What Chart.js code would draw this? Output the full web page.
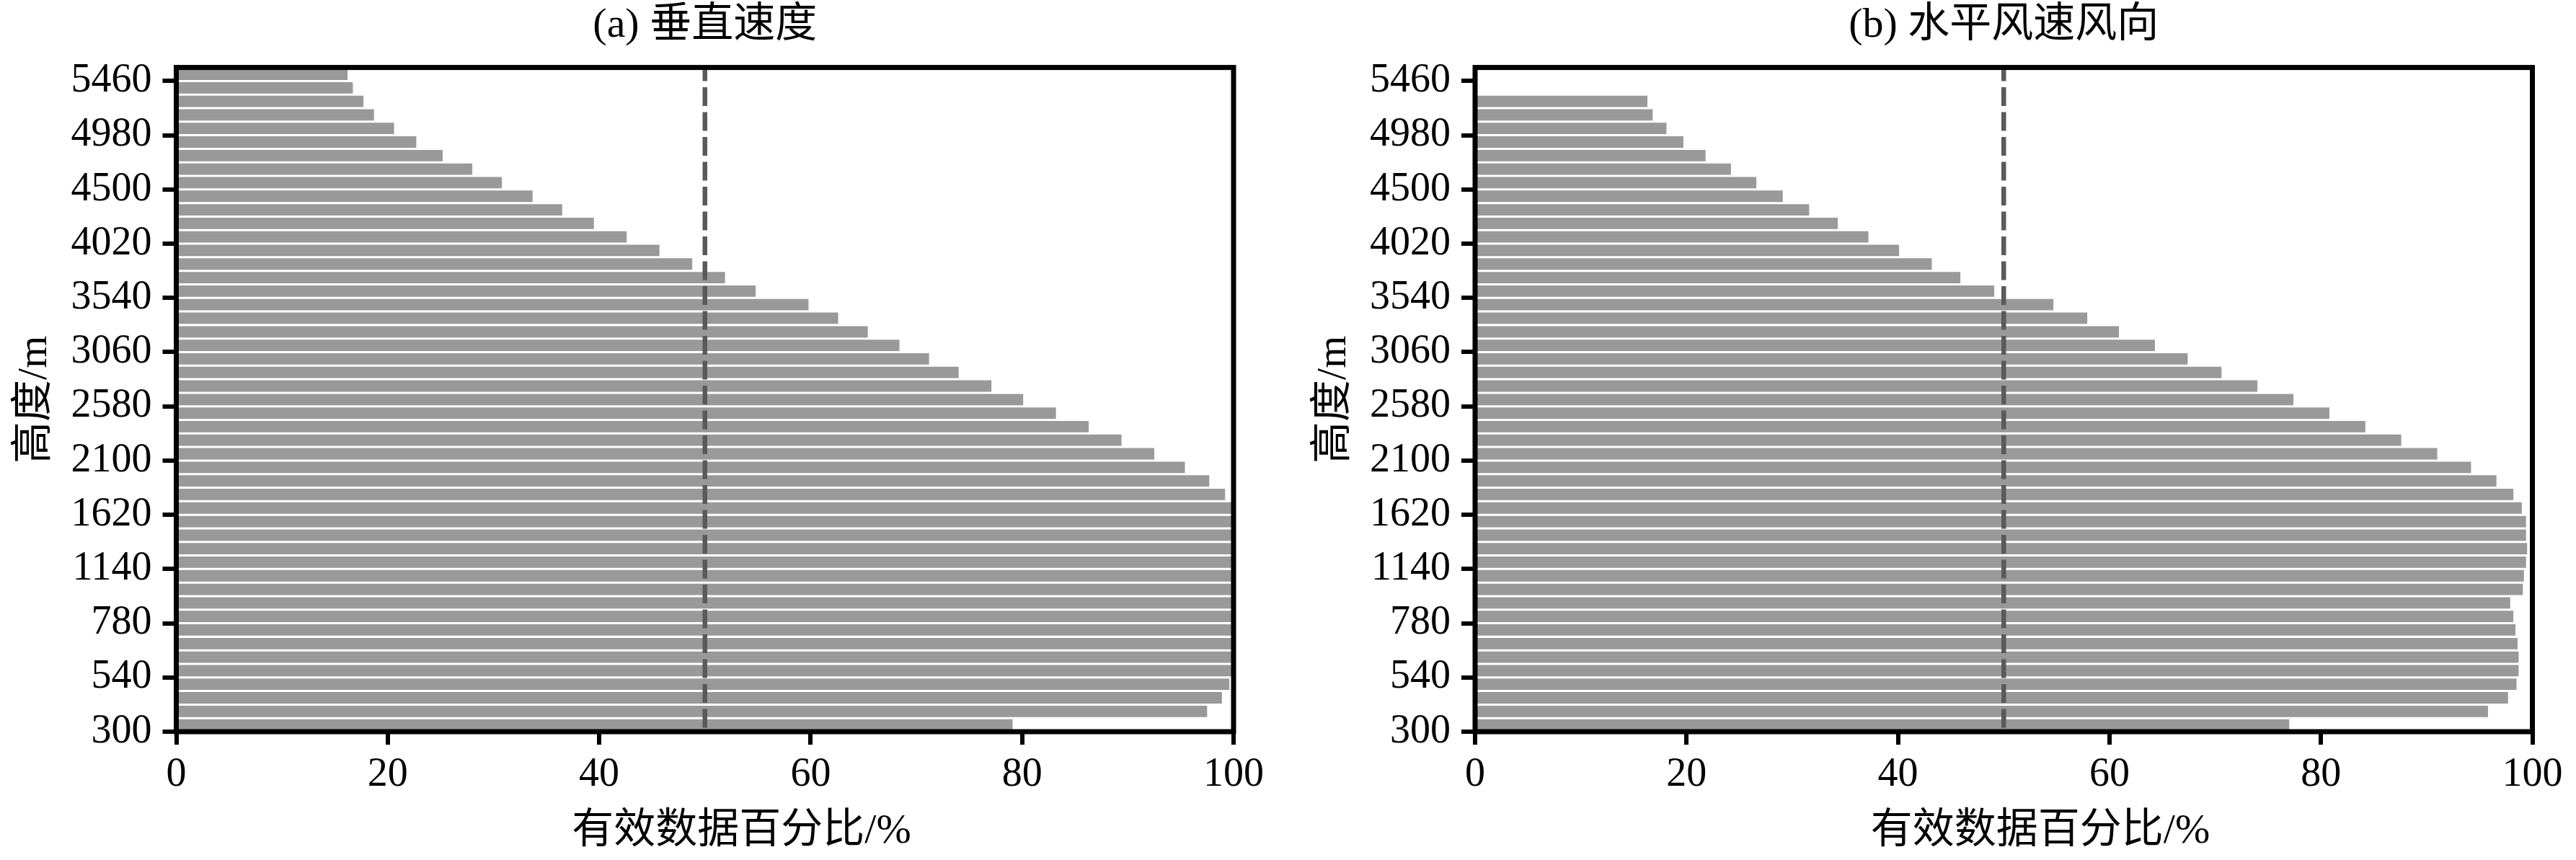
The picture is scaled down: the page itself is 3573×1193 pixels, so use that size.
<!DOCTYPE html>
<html>
<head>
<meta charset="utf-8">
<title>有效数据百分比</title>
<script src="https://cdn.jsdelivr.net/npm/chart.js@4.4.1/dist/chart.umd.min.js"></script>
<style>
  html, body { margin: 0; padding: 0; background: #fff; }
  #wrap { position: relative; width: 3573px; height: 1193px; overflow: hidden; }
  #wrap canvas { position: absolute; top: 0; }
</style>
</head>
<body>
<div id="wrap">
  <canvas id="chartA" width="1786" height="1193" style="left:0"></canvas>
  <canvas id="chartB" width="1787" height="1193" style="left:1786px"></canvas>
</div>
<script>
// 高度分层 (m)
const HEIGHTS = [300, 360, 420, 480, 540, 600, 660, 720, 780, 840, 900,
  1020, 1140, 1260, 1380, 1500, 1620, 1740, 1860, 1980, 2100, 2220, 2340, 2460,
  2580, 2700, 2820, 2940, 3060, 3180, 3300, 3420, 3540, 3660, 3780, 3900, 4020,
  4140, 4260, 4380, 4500, 4620, 4740, 4860, 4980, 5100, 5220, 5340, 5460];

const Y_TICK_LABELS = [300, 540, 780, 1140, 1620, 2100, 2580, 3060, 3540, 4020, 4500, 4980, 5460];
const X_TICKS = [0, 20, 40, 60, 80, 100];
const THRESHOLD = 50;

// (a) 垂直速度
const VERTICAL_PCT = [79.1, 97.5, 98.9, 99.6, 100, 100, 100, 100, 100, 100, 100,
  100, 100, 100, 100, 100, 100, 99.2, 97.7, 95.4, 92.5, 89.4, 86.3, 83.2,
  80.1, 77.1, 74.0, 71.2, 68.4, 65.4, 62.6, 59.8, 54.8, 51.9, 48.8, 45.7, 42.6,
  39.5, 36.5, 33.7, 30.8, 28.0, 25.2, 22.7, 20.6, 18.7, 17.7, 16.7, 16.2];

// (b) 水平风速风向
const HORIZONTAL_PCT = [77.0, 95.8, 97.7, 98.5, 98.7, 98.7, 98.6, 98.4, 98.2, 97.9, 99.1,
  99.2, 99.4, 99.5, 99.4, 99.4, 99.0, 98.2, 96.6, 94.2, 91.0, 87.6, 84.2, 80.8,
  77.4, 74.0, 70.6, 67.4, 64.3, 60.9, 57.9, 54.7, 49.1, 45.9, 43.2, 40.1, 37.2,
  34.3, 31.6, 29.1, 26.6, 24.2, 21.8, 19.7, 18.1, 16.8, 16.3, 0, 0];

const FONT = '"Liberation Serif", "Times New Roman", "Noto Sans CJK SC", serif';

// 虚线 + 外框
const framePlugin = {
  id: 'frame',
  afterDatasetsDraw(chart) {
    const { ctx, chartArea: a, scales: { x } } = chart;
    const px = x.getPixelForValue(THRESHOLD);
    ctx.save();
    ctx.strokeStyle = '#5a5a5a';
    ctx.lineWidth = 6.5;
    ctx.setLineDash([26, 8.5]);
    ctx.lineDashOffset = 7;
    ctx.beginPath();
    ctx.moveTo(px, a.top);
    ctx.lineTo(px, a.bottom);
    ctx.stroke();
    ctx.setLineDash([]);
    ctx.strokeStyle = '#000';
    ctx.lineWidth = 7;
    ctx.strokeRect(a.left, a.top, a.right - a.left, a.bottom - a.top);
    ctx.restore();
  }
};

const makeChart = (canvasId, title, values, geo) => {
  const points = values.map((v, i) => ({ x: v, y: i + 0.5 }));
  return new Chart(document.getElementById(canvasId), {
    type: 'bar',
    data: {
      datasets: [{
        data: points,
        backgroundColor: '#999999',
        borderWidth: 0,
        barPercentage: 0.84,
        categoryPercentage: 1
      }]
    },
    plugins: [framePlugin],
    options: {
      indexAxis: 'y',
      responsive: false,
      devicePixelRatio: 1,
      animation: false,
      layout: { padding: { left: 0, right: geo.padRight, top: 0, bottom: 0 } },
      plugins: {
        legend: { display: false },
        tooltip: { enabled: false },
        title: {
          display: true,
          text: title,
          fullSize: false,
          color: '#000',
          font: { family: FONT, size: 58, weight: 'normal', lineHeight: 1.2 },
          padding: { top: 1, bottom: 23 }
        }
      },
      scales: {
        x: {
          type: 'linear',
          min: 0,
          max: 100,
          afterFit: s => { s.height = 178; },
          afterBuildTicks: s => { s.ticks = X_TICKS.map(v => ({ value: v })); },
          border: { display: false },
          grid: { drawOnChartArea: false, drawTicks: true, tickLength: 18, tickWidth: 6, tickColor: '#000', lineWidth: 6, color: '#000' },
          ticks: { color: '#000', padding: 9, font: { family: FONT, size: 56 } },
          title: {
            display: true,
            text: '       有效数据百分比/%',
            color: '#000',
            font: { family: FONT, size: 58, lineHeight: 1.2 },
            padding: { top: 0, bottom: 4 }
          }
        },
        y: {
          type: 'linear',
          min: 0,
          max: HEIGHTS.length,
          offset: false,
          afterFit: s => { s.width = geo.axisLeft; },
          afterBuildTicks: s => { s.ticks = Y_TICK_LABELS.map(h => ({ value: HEIGHTS.indexOf(h) })); },
          border: { display: false },
          grid: { offset: false, drawOnChartArea: false, drawTicks: true, tickLength: 19, tickWidth: 6, tickColor: '#000', lineWidth: 6, color: '#000' },
          ticks: {
            color: '#000',
            padding: 15,
            font: { family: FONT, size: 56 },
            callback: v => (HEIGHTS[v] !== undefined ? String(HEIGHTS[v]) : '')
          },
          title: {
            display: true,
            text: '高度/m',
            color: '#000',
            font: { family: FONT, size: 58, lineHeight: 1.2 },
            padding: { top: geo.yTitlePad, bottom: 0 }
          }
        }
      }
    }
  });
};

makeChart('chartA', '(a) 垂直速度', VERTICAL_PCT, { axisLeft: 244.5, padRight: 75, yTitlePad: 14 });
makeChart('chartB', '(b) 水平风速风向', HORIZONTAL_PCT, { axisLeft: 260, padRight: 60.5, yTitlePad: 30 });
</script>
</body>
</html>
